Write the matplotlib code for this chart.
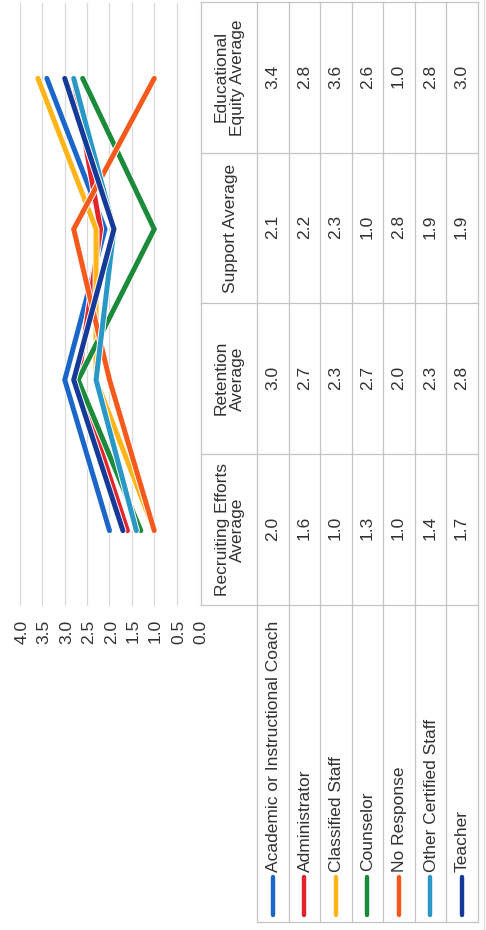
import numpy as np
import matplotlib
matplotlib.use("Agg")
from matplotlib import pyplot as plt
from matplotlib import patheffects as pe
from matplotlib import transforms as mtrans
from matplotlib.lines import Line2D

# Survey averages by role, one list per category
categories = ["Recruiting Efforts\nAverage", "Retention\nAverage",
              "Support Average", "Educational\nEquity Average"]
roles = ["Academic or Instructional Coach", "Administrator", "Classified Staff",
         "Counselor", "No Response", "Other Certified Staff", "Teacher"]
recruiting = [2.0, 1.6, 1.0, 1.3, 1.0, 1.4, 1.7]
retention = [3.0, 2.7, 2.3, 2.7, 2.0, 2.3, 2.8]
support = [2.1, 2.2, 2.3, 1.0, 2.8, 1.9, 1.9]
equity = [3.4, 2.8, 3.6, 2.6, 1.0, 2.8, 3.0]
colors = ["#1b67c9", "#e3242b", "#ffb418", "#1b8a3a", "#f55a1c", "#2a98c6", "#163a98"]
y_ticks = [0.0, 0.5, 1.0, 1.5, 2.0, 2.5, 3.0, 3.5, 4.0]

TEXT = "#333333"
GRID = "#d9d9d9"
BORDER = "#c4c4c4"
FONT = "Liberation Sans"
FS = 12.5

# the chart is laid out landscape in pixel units, then turned on its side
W, H = 930, 486
fig = plt.figure(figsize=(W / 100, H / 100), dpi=100)
fig.patch.set_facecolor("white")


def fx(px):
    return px / W


def fy(py):
    return 1 - py / H


ax = fig.add_axes([fx(324), fy(199), fx(927) - fx(324), fy(20) - fy(199)])
x = np.arange(len(categories))
series = np.array([recruiting, retention, support, equity]).T
for vals, c in zip(series, colors):
    ax.plot(x, vals, color=c, lw=3.6, solid_joinstyle="miter", solid_capstyle="round",
            path_effects=[pe.Stroke(linewidth=5.0, foreground="white"), pe.Normal()])

ax.set_xlim(-0.5, len(categories) - 0.5)
ax.set_ylim(0, 4)
ax.set_yticks(y_ticks)
ax.set_yticklabels([f"{t:.1f}" for t in y_ticks], fontsize=FS, family=FONT, color=TEXT)
ax.set_xticks([])
ax.tick_params(axis="y", length=0, pad=11)
ax.grid(axis="y", color=GRID, lw=0.9)
ax.set_axisbelow(True)
for s in ax.spines.values():
    s.set_visible(False)

# data table under the plot, columns follow the category axis
colT = mtrans.blended_transform_factory(ax.transData, fig.transFigure)
head_top, head_bot, row_h = 201, 257, 31.5
n = len(roles)
bottom = head_bot + n * row_h
left_edge = 7


def hline(y, x0, x1, trans_x_data=False):
    if trans_x_data:
        fig.add_artist(Line2D([x0, x1], [fy(y), fy(y)], transform=colT, color=BORDER, lw=0.9))
    else:
        fig.add_artist(Line2D([fx(x0), fx(x1)], [fy(y), fy(y)], transform=fig.transFigure,
                              color=BORDER, lw=0.9))


edges = np.arange(len(categories) + 1) - 0.5
hline(head_top, edges[0], edges[-1], trans_x_data=True)
for i in range(n + 1):
    y = head_bot + i * row_h
    fig.add_artist(Line2D([fx(left_edge), fx(927)], [fy(y), fy(y)], transform=fig.transFigure,
                          color=BORDER, lw=0.9))
for e in edges:
    fig.add_artist(Line2D([e, e], [fy(head_top), fy(bottom)], transform=colT, color=BORDER, lw=0.9))
fig.add_artist(Line2D([fx(left_edge), fx(left_edge)], [fy(head_bot), fy(bottom)],
                      transform=fig.transFigure, color=BORDER, lw=0.9))

for j, cat in enumerate(categories):
    fig.text(j, fy((head_top + head_bot) / 2), cat, transform=colT, ha="center", va="center",
             fontsize=FS, family=FONT, color=TEXT, linespacing=0.95)
    for i in range(n):
        yc = head_bot + (i + 0.5) * row_h
        fig.text(j, fy(yc), f"{series[i][j]:.1f}", transform=colT, ha="center", va="center",
                 fontsize=FS, family=FONT, color=TEXT)

# legend keys in the row headers
for i, (role, c) in enumerate(zip(roles, colors)):
    yc = head_bot + (i + 0.5) * row_h
    fig.add_artist(Line2D([fx(15), fx(53)], [fy(yc), fy(yc)], transform=fig.transFigure,
                          color=c, lw=3.2, solid_capstyle="round"))
    fig.text(fx(57), fy(yc), role, ha="left", va="center", fontsize=FS, family=FONT, color=TEXT)

# outer chart border at the bottom edge
fig.add_artist(Line2D([0, 1], [fy(484), fy(484)], transform=fig.transFigure, color="#dedede", lw=1))

fig.canvas.draw()
img = np.asarray(fig.canvas.buffer_rgba())
plt.imsave("out.png", np.rot90(img))
